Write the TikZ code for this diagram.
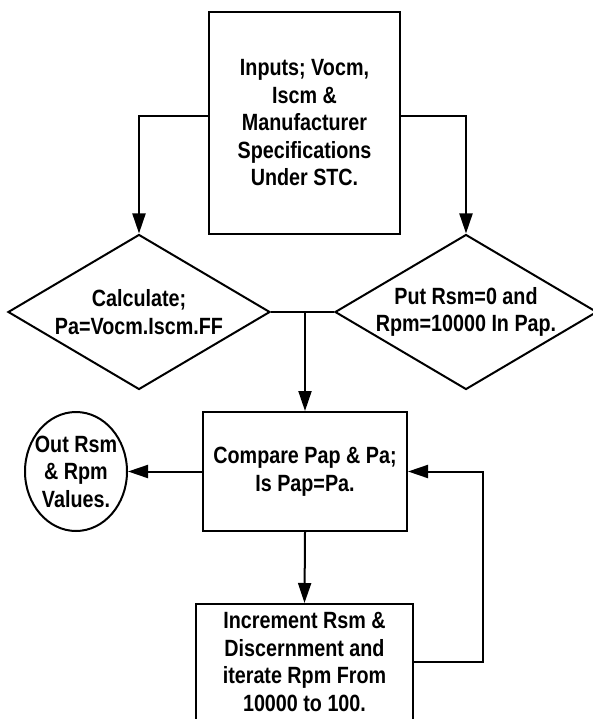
\documentclass[tikz,border=0pt]{standalone}
\usepackage{fontspec}
\setmainfont{Liberation Sans}[FakeStretch=0.84]
\usetikzlibrary{arrows.meta,positioning,shapes.geometric}
\tikzset{
  flowarr/.style={-{Triangle[length=20pt,width=13pt]}, line width=2pt},
  flowline/.style={line width=2pt},
  flowbox/.style={draw, line width=2pt, align=center, inner sep=2pt},
  flowdiam/.style={flowbox, diamond, aspect=1.69, inner sep=-8pt, minimum width=262pt, minimum height=155pt},
}
\begin{document}
\begin{tikzpicture}[
  x=1pt, y=-1pt,
  font=\fontsize{23.5}{27.5}\selectfont\bfseries,
]
  \useasboundingbox[fill=white] (0,0) rectangle (593,719);

  \node[flowbox, minimum width=191pt, minimum height=222pt] (inp) at (304.5,123)
    {Inputs; Vocm,\\Iscm \&\\Manufacturer\\Specifications\\Under STC.};

  \node[flowdiam] (calc) at (139,312) {Calculate;\\Pa=Vocm.Iscm.FF};
  \node[flowdiam] (put) at (466,312) {Put Rsm=0 and\\Rpm=10000 In Pap.};

  \coordinate (join) at (305,312);

  \node[flowbox, minimum width=204pt, minimum height=119pt] (cmp) at (305,471.5)
    {Compare Pap \& Pa;\\Is Pap=Pa.};
  \node[flowbox, ellipse, inner sep=-8pt, minimum width=102pt, minimum height=119pt] (outv) at (76,471.5)
    {Out Rsm\\\& Rpm\\Values.};
  \node[flowbox, minimum width=217pt, minimum height=116pt] (inc) at (304.5,662)
    {Increment Rsm \&\\Discernment and\\iterate Rpm From\\10000 to 100.};

  \draw[flowarr] ([yshift=7pt]inp.west) -| (calc.north);
  \draw[flowarr] ([yshift=7pt]inp.east) -| (put.north);
  \draw[flowline] (calc.east) -- (put.west);
  \draw[flowarr] (join) -- (cmp.north);
  \draw[flowarr] (cmp.west) -- (outv.east);
  \draw[flowarr] (cmp.south) -- (inc.north);
  \draw[flowarr] (inc.east) -- ++(69,0) |- (cmp.east);
\end{tikzpicture}
\end{document}
